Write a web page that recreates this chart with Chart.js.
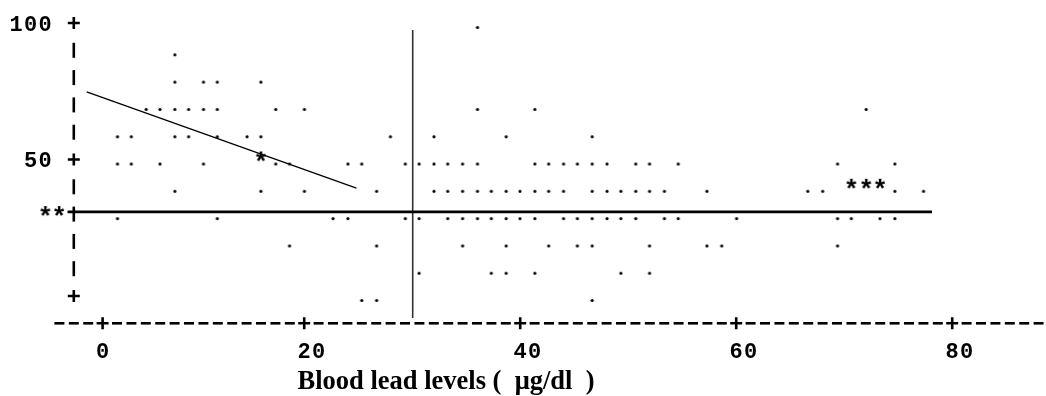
<!DOCTYPE html>
<html>
<head>
<meta charset="utf-8">
<script src="https://cdn.jsdelivr.net/npm/chart.js@4"></script>
<style>
  html, body { margin: 0; padding: 0; background: #fff; overflow: hidden; }
  #wrap { width: 1046px; height: 396px; position: relative; }
  #leadChart { display: block; }
</style>
</head>
<body>
<div id="wrap"><canvas id="leadChart"></canvas></div>
<script>
// line-printer style plot: every mark sits in a character cell
const colsPerUnit = 0.7375;          // print columns per ug/dl
const unitsPerCol = 1 / colsPerUnit;

// scores (rows) and the lead levels plotted on each row
const scoreLevels = [100, 90, 80, 70, 60, 50, 40, 30, 20, 10, 0];
const leadAt100 = [35.3];
const leadAt90 = [6.8];
const leadAt80 = [6.8, 9.5, 10.8, 14.9];
const leadAt70 = [4.1, 5.4, 6.8, 8.1, 9.5, 10.8, 16.3, 19.0, 35.3, 40.7, 71.9];
const leadAt60 = [1.4, 2.7, 6.8, 8.1, 10.8, 13.6, 14.9, 27.1, 31.2, 38.0, 46.1];
const leadAt50 = [1.4, 2.7, 5.4, 9.5, 16.3, 17.6, 23.1, 24.4, 28.5, 29.8, 31.2, 32.5, 33.9, 35.3,
                  40.7, 42.0, 43.4, 44.7, 46.1, 47.5, 50.2, 51.5, 54.2, 69.2, 74.6];
const leadAt40 = [6.8, 14.9, 19.0, 25.8, 31.2, 32.5, 33.9, 35.3, 36.6, 38.0, 39.3, 40.7, 42.0, 43.4,
                  46.1, 47.5, 48.8, 50.2, 51.5, 52.9, 56.9, 66.4, 67.8, 74.6, 77.3];
const leadAt30 = [1.4, 10.8, 21.7, 23.1, 28.5, 29.8, 32.5, 33.9, 35.3, 36.6, 38.0, 39.3, 40.7, 43.4,
                  44.7, 46.1, 47.5, 48.8, 50.2, 52.9, 54.2, 59.7, 69.2, 70.5, 73.2, 74.6];
const leadAt20 = [17.6, 25.8, 33.9, 38.0, 42.0, 44.7, 46.1, 51.5, 56.9, 58.3, 69.2];
const leadAt10 = [29.8, 36.6, 38.0, 40.7, 48.8, 51.5];
const leadAt0 = [24.4, 25.8, 46.1];
const leadRows = [leadAt100, leadAt90, leadAt80, leadAt70, leadAt60, leadAt50,
                  leadAt40, leadAt30, leadAt20, leadAt10, leadAt0];

// '*' marks
const starLead = [14.9, 70.5, 71.9, 73.2, -5.4, -4.1];
const starScore = [50, 40, 40, 40, 30, 30];

// drawn lines
const fitLead = [-1.5, 23.9];
const fitScore = [74.8, 39.5];
const meanLead = [-3.3, 78.1];
const meanScore = [30.8, 30.8];
const cutLead = [29.2, 29.2];
const cutScore = [97.4, -8.1];

const xTicks = [0, 20, 40, 60, 80];
const yTicks = [100, 50, 0];
const yTickLabels = ['100', '50', ''];
const xTitle = 'Blood lead levels (  \u03bcg/dl  )';

const pairs = (xs, ys) => xs.map((x, i) => ({ x, y: ys[i] }));
const dotData = [];
leadRows.forEach((row, r) => row.forEach(x => dotData.push({ x, y: scoreLevels[r] })));

// glyph images: a period sits on the baseline, an asterisk rides high
function dotGlyph() {
  const cv = document.createElement('canvas');
  cv.width = 8; cv.height = 20;
  const g = cv.getContext('2d');
  g.fillStyle = '#000';
  g.beginPath();
  g.arc(4, 10 + 4.5, 1.6, 0, Math.PI * 2);
  g.fill();
  return cv;
}
function textGlyph(ch, font, w, h, dy) {
  const cv = document.createElement('canvas');
  cv.width = w; cv.height = h;
  const g = cv.getContext('2d');
  g.font = font;
  g.textAlign = 'center';
  g.fillStyle = '#000';
  const m = g.measureText(ch);
  g.fillText(ch, w / 2, h / 2 + dy + (m.actualBoundingBoxAscent - m.actualBoundingBoxDescent) / 2);
  return cv;
}

const printerAxes = {
  id: 'printerAxes',
  afterDatasetsDraw(chart) {
    const ctx = chart.ctx;
    const xs = chart.scales.x, ys = chart.scales.y;
    const colX = c => xs.getPixelForValue(c * unitsPerCol);
    const tickCol = v => Math.floor(v * colsPerUnit + 1e-9);
    ctx.save();
    ctx.strokeStyle = '#000';
    ctx.fillStyle = '#000';
    ctx.lineWidth = 2.6;
    const plus = (x, y) => {
      ctx.beginPath();
      ctx.moveTo(x - 6, y); ctx.lineTo(x + 6, y);
      ctx.moveTo(x, y - 6); ctx.lineTo(x, y + 6);
      ctx.stroke();
    };
    // horizontal axis, one dash per column
    const axisY = ys.getPixelForValue(ys.min);
    const tickCols = xTicks.map(tickCol);
    for (let c = -3; c <= 65; c++) {
      const x = colX(c);
      if (tickCols.includes(c)) plus(x, axisY);
      else { ctx.beginPath(); ctx.moveTo(x - 5, axisY); ctx.lineTo(x + 5, axisY); ctx.stroke(); }
    }
    // vertical axis in column -2
    const axisX = colX(-2);
    scoreLevels.forEach(v => {
      const y = ys.getPixelForValue(v);
      if (yTicks.includes(v)) plus(axisX, y);
      else { ctx.beginPath(); ctx.moveTo(axisX, y - 7.5); ctx.lineTo(axisX, y + 7.5); ctx.stroke(); }
    });
    // tick labels, one character per column
    ctx.font = 'bold 22px "Liberation Mono"';
    ctx.textAlign = 'center';
    const m = ctx.measureText('0');
    const off = (m.actualBoundingBoxAscent - m.actualBoundingBoxDescent) / 2;
    const putChars = (s, c0, y) => {
      for (let i = 0; i < s.length; i++) ctx.fillText(s[i], colX(c0 + i), y + off);
    };
    yTicks.forEach((v, i) => {
      const s = yTickLabels[i];
      putChars(s, -3 - s.length, ys.getPixelForValue(v));
    });
    const labelY = ys.getPixelForValue(ys.min - 10);
    xTicks.forEach(v => putChars(String(v), tickCol(v), labelY));
    // axis title
    ctx.font = 'bold 26.5px "Liberation Serif"';
    ctx.fillText(xTitle, 446, 389);
    ctx.restore();
  }
};

const lineSet = (data, color, width) => ({
  data, showLine: true, borderColor: color, borderWidth: width,
  pointRadius: 0, clip: false, fill: false
});

new Chart(document.getElementById('leadChart'), {
  type: 'scatter',
  data: {
    datasets: [
      lineSet(pairs(meanLead, meanScore), '#000', 2.6),
      lineSet(pairs(cutLead, cutScore), '#333', 1.6),
      lineSet(pairs(fitLead, fitScore), '#000', 1.3),
      { data: dotData, pointStyle: dotGlyph(), pointRadius: 3, clip: false },
      { data: pairs(starLead, starScore), pointStyle: textGlyph('*', 'bold 26px "Liberation Sans"', 24, 30, -3),
        pointRadius: 8, clip: false }
    ]
  },
  options: {
    responsive: true,
    maintainAspectRatio: false,
    animation: false,
    devicePixelRatio: 1,
    layout: { autoPadding: false, padding: { left: 30.6, right: 0.2, top: 23, bottom: 72.7 } },
    scales: {
      x: { type: 'linear', display: false, min: -5 * unitsPerCol, max: 65.5 * unitsPerCol },
      y: { type: 'linear', display: false, min: -10, max: 100 }
    },
    plugins: { legend: { display: false }, tooltip: { enabled: false } }
  },
  plugins: [printerAxes]
});
</script>
</body>
</html>
